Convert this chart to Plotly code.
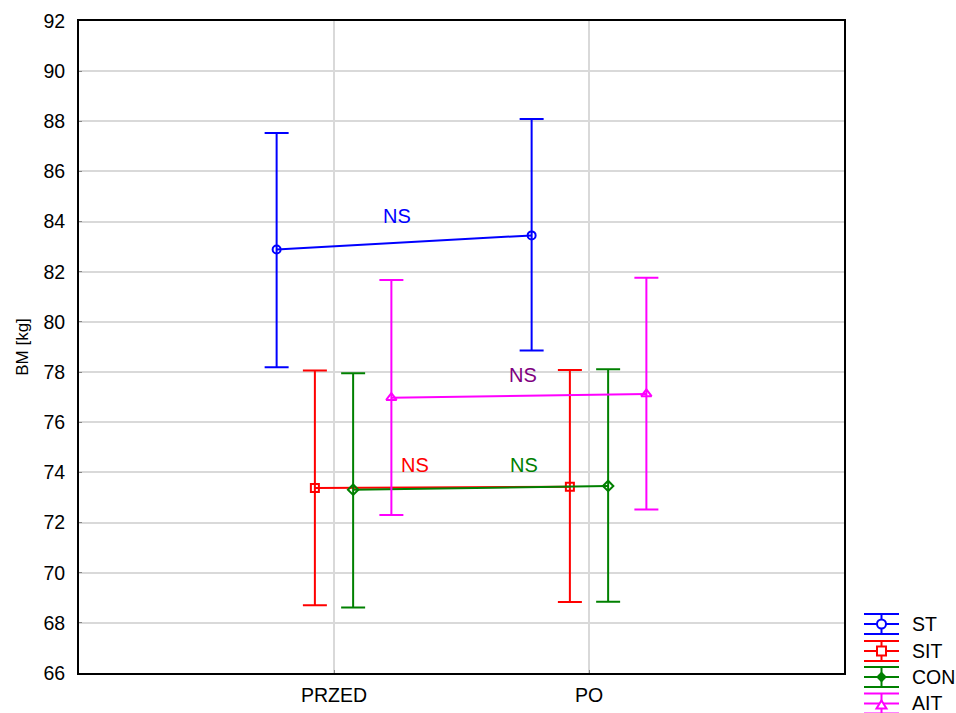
import plotly.graph_objects as go

# Body mass before / after training, group means with interval bounds
categories = ["PRZED", "PO"]
groups = ["ST", "SIT", "CON", "AIT"]

st_mean = [82.89, 83.45]
st_low = [78.19, 78.86]
st_high = [87.53, 88.09]

sit_mean = [73.38, 73.43]
sit_low = [68.70, 68.83]
sit_high = [78.06, 78.08]

con_mean = [73.31, 73.46]
con_low = [68.61, 68.84]
con_high = [77.95, 78.11]

ait_mean = [76.98, 77.13]
ait_low = [72.30, 72.52]
ait_high = [81.67, 81.76]

y_ticks = list(range(66, 93, 2))

colors = ["#0000ff", "#ff0000", "#008000", "#ff00ff"]
symbols = ["circle-open", "square-open", "diamond-open", "triangle-up-open"]
offsets = [-0.225, -0.075, 0.075, 0.225]
means = [st_mean, sit_mean, con_mean, ait_mean]
lows = [st_low, sit_low, con_low, ait_low]
highs = [st_high, sit_high, con_high, ait_high]

# significance labels: (text, x in category units, y, colour)
ns_labels = [
    ("NS", 0.246, 84.22, "#0000ff"),
    ("NS", 0.740, 77.88, "#800080"),
    ("NS", 0.316, 74.29, "#ff0000"),
    ("NS", 0.745, 74.29, "#008000"),
]

FONT = "Liberation Sans, Arial, sans-serif"
W, H = 956, 713
ML, MR, MT, MB = 79, 112, 21, 40
PW, PH = W - ML - MR, H - MT - MB

fig = go.Figure()
for name, mean, low, high, color, symbol, offset in zip(
        groups, means, lows, highs, colors, symbols, offsets):
    xs = [i + offset for i in range(len(categories))]
    fig.add_trace(go.Scatter(
        x=xs,
        y=mean,
        name=name,
        mode="lines+markers",
        line=dict(color=color, width=2),
        marker=dict(symbol=symbol, size=8 if symbol != "triangle-up-open" else 9,
                    color=color, line=dict(color=color, width=2)),
        error_y=dict(
            type="data",
            symmetric=False,
            array=[h - m for h, m in zip(high, mean)],
            arrayminus=[m - l for m, l in zip(mean, low)],
            color=color,
            thickness=2,
            width=12,
        ),
        showlegend=False,
    ))

for text, x, y, color in ns_labels:
    fig.add_annotation(x=x, y=y, text=text, showarrow=False,
                       font=dict(family=FONT, size=20, color=color))


# legend drawn with error-bar glyphs, placed in pixel units to the right of the plot
def px_x(px):
    return (px - ML) / PW


def px_y(py):
    return (H - MB - py) / PH


def seg(x0, y0, x1, y1, color):
    fig.add_shape(type="line", xref="paper", yref="paper",
                  x0=px_x(x0), y0=px_y(y0), x1=px_x(x1), y1=px_y(y1),
                  line=dict(color=color, width=2))


leg_left, leg_right, leg_text = 864, 899, 910
leg_cx = (leg_left + leg_right) / 2
leg_rows = [624, 651, 677, 703.5]
r = 4.5
for name, color, symbol, cy in zip(groups, colors, symbols, leg_rows):
    for dy in (-10, 0, 10):
        seg(leg_left, cy + dy, leg_right, cy + dy, color)
    seg(leg_cx, cy - 10, leg_cx, cy + 10, color)
    mk = dict(xref="paper", yref="paper", line=dict(color=color, width=2),
              fillcolor="white")
    if symbol.startswith("circle"):
        fig.add_shape(type="circle", x0=px_x(leg_cx - r), x1=px_x(leg_cx + r),
                      y0=px_y(cy + r), y1=px_y(cy - r), **mk)
    elif symbol.startswith("square"):
        fig.add_shape(type="rect", x0=px_x(leg_cx - r), x1=px_x(leg_cx + r),
                      y0=px_y(cy + r), y1=px_y(cy - r), **mk)
    elif symbol.startswith("diamond"):
        d = 4
        path = "M {} {} L {} {} L {} {} L {} {} Z".format(
            px_x(leg_cx), px_y(cy - d), px_x(leg_cx + d), px_y(cy),
            px_x(leg_cx), px_y(cy + d), px_x(leg_cx - d), px_y(cy))
        mk["fillcolor"] = color
        fig.add_shape(type="path", path=path, **mk)
    else:
        path = "M {} {} L {} {} L {} {} Z".format(
            px_x(leg_cx), px_y(cy - 3), px_x(leg_cx + 5), px_y(cy + 5),
            px_x(leg_cx - 5), px_y(cy + 5))
        fig.add_shape(type="path", path=path, **mk)
    fig.add_annotation(xref="paper", yref="paper", x=px_x(leg_text), y=px_y(cy),
                       xanchor="left", yanchor="middle", text=name, showarrow=False,
                       font=dict(family=FONT, size=19.5, color="black"))

axis_common = dict(
    showgrid=True,
    gridcolor="#d9d9d9",
    gridwidth=2,
    zeroline=False,
    showline=True,
    linecolor="black",
    linewidth=2,
    mirror=True,
    ticks="inside",
    ticklen=3,
    tickcolor="#888888",
    tickfont=dict(family=FONT, size=19.5, color="black"),
)

fig.update_layout(
    width=W,
    height=H,
    margin=dict(l=ML, r=MR, t=MT, b=MB, autoexpand=False),
    paper_bgcolor="white",
    plot_bgcolor="white",
    font=dict(family=FONT, color="black"),
    showlegend=False,
    xaxis=dict(
        range=[-1, 2],
        tickmode="array",
        tickvals=list(range(len(categories))),
        ticktext=categories,
        ticklabelstandoff=4,
        **axis_common,
    ),
    yaxis=dict(
        range=[66, 92],
        tickmode="array",
        tickvals=y_ticks,
        ticklabelstandoff=8,
        title=dict(text="BM [kg]", font=dict(family=FONT, size=17, color="black"),
                   standoff=10),
        **axis_common,
    ),
)

fig.write_html("out.html")
